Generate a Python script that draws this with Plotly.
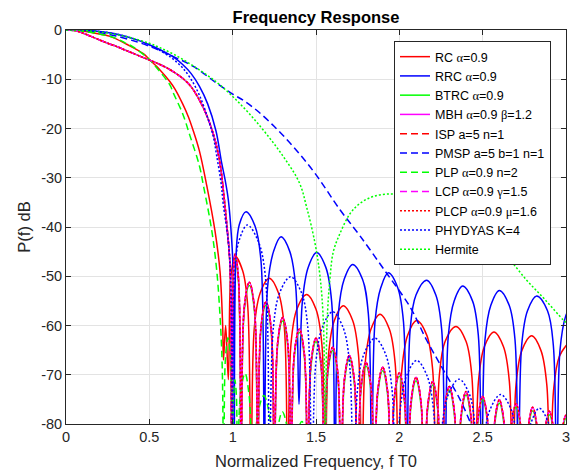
import plotly.graph_objects as go

# ---------------- data ----------------
x_ticks = [0, 0.5, 1, 1.5, 2, 2.5, 3]
x_tick_text = ["0", "0.5", "1", "1.5", "2", "2.5", "3"]
y_ticks = [0, -10, -20, -30, -40, -50, -60, -70, -80]
y_tick_text = ["0", "-10", "-20", "-30", "-40", "-50", "-60", "-70", "-80"]

# RC alpha=0.9 (red solid)
rc_f = [0, 0.1, 0.164, 0.264, 0.364, 0.464, 0.5, 0.564, 0.624, 0.654, 0.7, 0.734, 0.764, 0.8, 0.844, 0.894, 0.924, 0.94, 0.945, 0.958, 0.974,
        0.985, 0.995, 1.014, 1.06, 1.09, 1.11,
        1.13, 1.165, 1.22, 1.275, 1.31, 1.33,
        1.35, 1.385, 1.444, 1.5, 1.535, 1.555,
        1.575, 1.61, 1.664, 1.72, 1.755, 1.775,
        1.795, 1.83, 1.884, 1.94, 1.975, 1.995,
        2.015, 2.05, 2.104, 2.165, 2.2, 2.22,
        2.24, 2.275, 2.34, 2.4, 2.435, 2.455,
        2.475, 2.51, 2.568, 2.625, 2.66, 2.68,
        2.7, 2.735, 2.794, 2.85, 2.885, 2.905,
        2.925, 2.96, 3.02]
rc_db = [0, -0.2, -0.6, -1.3, -2.9, -4.8, -6.0, -8.1, -10.5, -12.0, -15.0, -17.6, -20.5, -24.5, -31.5, -40.8, -49.0, -60, -67, -60, -71,
         -52, -48.5, -45.9, -48.9, -55.9, -100,
         -60.4, -53.4, -50.4, -53.4, -60.4, -100,
         -63.7, -56.7, -53.7, -56.7, -63.7, -100,
         -66, -59, -56, -59, -66, -100,
         -67.7, -60.7, -57.7, -60.7, -67.7, -100,
         -69, -62, -59, -62, -69, -100,
         -70.2, -63.2, -60.2, -63.2, -70.2, -100,
         -71.3, -64.3, -61.3, -64.3, -71.3, -100,
         -72.1, -65.1, -62.1, -65.1, -72.1, -100,
         -73.3, -66.3, -63.3]

# RRC alpha=0.9 (blue solid)
rrc_f = [0, 0.1, 0.2, 0.3, 0.4, 0.5, 0.6, 0.65, 0.7, 0.75, 0.8, 0.85, 0.9, 0.934, 0.955, 0.974, 0.994, 1.004, 1.01,
         1.02, 1.04, 1.08, 1.135, 1.17, 1.19,
         1.21, 1.245, 1.29, 1.343, 1.378, 1.398,
         1.418, 1.453, 1.504, 1.559, 1.594, 1.614,
         1.634, 1.669, 1.72, 1.779, 1.814, 1.834,
         1.854, 1.889, 1.934, 1.99, 2.025, 2.045,
         2.065, 2.1, 2.164, 2.219, 2.254, 2.274,
         2.294, 2.329, 2.38, 2.439, 2.474, 2.494,
         2.514, 2.549, 2.6, 2.659, 2.694, 2.714,
         2.734, 2.769, 2.824, 2.889, 2.924, 2.944,
         2.964, 2.999, 3.05]
rrc_db = [0, -0.05, -0.3, -0.8, -1.7, -3.0, -4.6, -5.6, -7.0, -8.8, -11.4, -15.0, -20.5, -27.0, -30.5, -34.5, -42.6, -50, -100,
          -46, -39.5, -36.9, -39.9, -46.9, -100,
          -52, -45, -42, -45, -52, -76,
          -55.2, -48.2, -45.2, -48.2, -55.2, -100,
          -57.6, -50.6, -47.6, -50.6, -57.6, -100,
          -59.3, -52.3, -49.3, -52.3, -59.3, -100,
          -60.8, -53.8, -50.8, -53.8, -60.8, -100,
          -62, -55, -52, -55, -62, -100,
          -62.9, -55.9, -52.9, -55.9, -62.9, -100,
          -64, -57, -54, -57, -64, -100,
          -65, -58, -55]

# narrow-lobe family (BTRC, MBH, ISP, LCP, PLCP)
nar_f = [0, 0.05, 0.1, 0.15, 0.2, 0.25, 0.3, 0.35, 0.4, 0.45, 0.5, 0.55, 0.6, 0.65, 0.7, 0.75, 0.8, 0.85, 0.894, 0.924, 0.944, 0.964, 0.984, 0.993,
         1.003, 1.015, 1.035, 1.052,
         1.07, 1.1, 1.13, 1.15, 1.17, 1.2, 1.23, 1.25, 1.27, 1.3, 1.33, 1.35,
         1.37, 1.4, 1.43, 1.45, 1.47, 1.5, 1.53, 1.55, 1.57, 1.6, 1.63, 1.65,
         1.67, 1.7, 1.73, 1.75, 1.77, 1.8, 1.83, 1.85, 1.87, 1.9, 1.93, 1.95,
         1.97, 2.0, 2.03, 2.05, 2.07, 2.1, 2.13, 2.15, 2.17, 2.2, 2.23, 2.25,
         2.27, 2.3, 2.33, 2.35, 2.37, 2.4, 2.43, 2.45, 2.47, 2.5, 2.53, 2.55,
         2.57, 2.6, 2.63, 2.65, 2.67, 2.7, 2.73, 2.75, 2.77, 2.8, 2.83, 2.85,
         2.87, 2.9, 2.93, 2.95, 2.97, 3.0, 3.03]
mbh_db = [0, -0.1, -0.6, -1.3, -2.0, -2.7, -3.3, -4.0, -4.7, -5.4, -6.1, -6.8, -7.6, -8.6, -9.8, -11.5, -14.2, -17.8, -22.3, -27.1, -32.5, -39.3, -48, -100,
          -50.5, -45.5, -50.5, -100,
          -56.2, -51.2, -56.2, -100, -60.2, -55.2, -60.2, -100, -63.4, -58.4, -63.4, -100,
          -65.7, -60.7, -65.7, -100, -67.6, -62.6, -67.6, -100, -69.4, -64.4, -69.4, -100,
          -71.1, -66.1, -71.1, -100, -72.5, -67.5, -72.5, -100, -73.5, -68.5, -73.5, -100,
          -74.6, -69.6, -74.6, -100, -75.5, -70.5, -75.5, -100, -76.4, -71.4, -76.4, -100,
          -77.4, -72.4, -77.4, -100, -78.4, -73.4, -78.4, -100, -79.4, -74.4, -79.4, -100,
          -80.1, -75.1, -80.1, -100, -80.9, -75.9, -80.9, -100, -81.6, -76.6, -81.6, -100,
          -82.4, -77.4, -82.4, -100, -83.2, -78.2, -83.2]
btrc_db = [0, -0.1, -0.6, -1.3, -2.0, -2.7, -3.3, -4.0, -4.7, -5.4, -6.1, -6.8, -7.6, -8.6, -9.8, -11.5, -14.2, -17.8, -22.3, -27.1, -32.5, -39.3, -48, -100,
           -51.2, -46.2, -51.2, -100,
           -56.9, -51.9, -56.9, -100, -60.9, -55.9, -60.9, -100, -64.1, -59.1, -64.1, -100,
           -66.4, -61.4, -66.4, -100, -68.3, -63.3, -68.3, -100, -70.1, -65.1, -70.1, -100,
           -71.8, -66.8, -71.8, -100, -73.2, -68.2, -73.2, -100, -74.2, -69.2, -74.2, -100,
           -75.3, -70.3, -75.3, -100, -76.2, -71.2, -76.2, -100, -77.1, -72.1, -77.1, -100,
           -78.1, -73.1, -78.1, -100, -79.1, -74.1, -79.1, -100, -80.1, -75.1, -80.1, -100,
           -80.8, -75.8, -80.8, -100, -81.6, -76.6, -81.6, -100, -82.3, -77.3, -82.3, -100,
           -83.1, -78.1, -83.1, -100, -83.9, -78.9, -83.9]

# PMSP a=5 b=1 n=1 (blue dashed)
pmsp_f = [0, 0.1, 0.2, 0.3, 0.424, 0.5, 0.624, 0.764, 0.904, 1.0, 1.064, 1.144, 1.25, 1.364, 1.494, 1.644, 1.764,
          1.924, 2.064, 2.164, 2.264, 2.364, 2.43, 2.5]
pmsp_db = [0, -0.1, -0.5, -1.2, -2.4, -3.3, -5.1, -7.4, -10.8, -13.0, -14.3, -16.3, -19.6, -23.7, -29.1, -36.5, -41.8,
           -49.4, -56.2, -63, -69, -75, -80, -85.5]

# PLP alpha=0.9 n=2 (green dashed)
plp_f = [0, 0.1, 0.2, 0.3, 0.354, 0.4, 0.494, 0.55, 0.624, 0.644, 0.7, 0.744, 0.8, 0.824, 0.874, 0.904, 0.924, 0.937, 0.948,
         0.956, 0.972, 0.988, 0.998,
         1.006, 1.013, 1.022, 1.03,
         1.045, 1.074, 1.1, 1.125,
         1.145, 1.187, 1.225, 1.245,
         1.265, 1.298, 1.335, 1.355,
         1.375, 1.415, 1.455, 1.475,
         1.495, 1.53, 1.565, 1.6]
plp_db = [0, -0.3, -0.8, -1.7, -2.6, -3.4, -5.8, -7.9, -11.2, -12.8, -17, -21.5, -27.5, -31.5, -40.6, -48.7, -58, -68, -100,
          -67, -62.5, -67, -100,
          -74, -71, -74, -100,
          -74.7, -69.7, -74.7, -100,
          -79.2, -74.2, -79.2, -100,
          -82.5, -77.5, -82.5, -100,
          -84.5, -79.5, -84.5, -100,
          -86.5, -81.5, -86.5, -100]

# PHYDYAS K=4 (blue dotted)
phy_f = [0, 0.1, 0.2, 0.3, 0.4, 0.5, 0.6, 0.65, 0.7, 0.75, 0.8, 0.85, 0.884, 0.904, 0.93, 0.944, 0.974, 0.99, 1.0,
         1.015, 1.04, 1.088, 1.15, 1.195, 1.22,
         1.245, 1.285, 1.347, 1.41, 1.45, 1.475,
         1.5, 1.54, 1.6, 1.66, 1.7, 1.725,
         1.75, 1.79, 1.854, 1.915, 1.955, 1.98,
         2.005, 2.045, 2.104, 2.165, 2.205, 2.23,
         2.255, 2.295, 2.358, 2.42, 2.455, 2.48,
         2.505, 2.545, 2.608, 2.67, 2.705, 2.73,
         2.755, 2.79, 2.84, 2.895, 2.935, 2.96,
         2.985, 3.02]
phy_db = [0, -0.05, -0.3, -0.8, -1.7, -3.0, -4.9, -6.1, -7.7, -10, -13.2, -17.8, -21.7, -25.5, -31, -35.5, -43, -52, -100,
          -48, -42.6, -39.6, -42.6, -49.6, -100,
          -60.1, -53.1, -50.1, -53.1, -60.1, -100,
          -67.2, -60.2, -57.2, -60.2, -67.2, -100,
          -72.6, -65.6, -62.6, -65.6, -72.6, -100,
          -77.1, -70.1, -67.1, -70.1, -77.1, -100,
          -80.9, -73.9, -70.9, -73.9, -80.9, -100,
          -84, -77, -74, -77, -84, -100,
          -86.8, -79.8, -76.8, -79.8, -86.8, -100,
          -89, -82]

# Hermite (green dotted)
herm_f = [0, 0.1, 0.2, 0.3, 0.4, 0.5, 0.564, 0.65, 0.764, 0.9, 1.0, 1.1, 1.2, 1.3, 1.4, 1.444, 1.494,
          1.524, 1.545, 1.556, 1.566, 1.585, 1.604, 1.644, 1.704, 1.764, 1.844, 1.95, 2.05, 2.15, 2.25, 2.35, 2.45,
          2.554, 2.644, 2.764, 2.87, 2.984, 3.0]
herm_db = [0, -0.1, -0.4, -0.9, -1.7, -2.7, -3.6, -5.0, -7.3, -10.5, -13.5, -17.0, -21.0, -25.5, -31.0, -36.0, -43.3,
           -50, -60, -100, -60, -50, -45, -41.3, -37.3, -35.2, -33.8, -33.3, -33.8, -35, -37, -39.3, -41.5,
           -43.7, -46, -50.8, -54.6, -58.9, -59.4]

SER = "<span style='font-family:Liberation Serif'>"
series = [
    ("RC " + SER + "α</span>=0.9", rc_f, rc_db, "#ff0000", "solid"),
    ("RRC " + SER + "α</span>=0.9", rrc_f, rrc_db, "#0000ff", "solid"),
    ("BTRC " + SER + "α</span>=0.9", nar_f, btrc_db, "#00ff00", "solid"),
    ("MBH " + SER + "α</span>=0.9 " + SER + "β</span>=1.2", nar_f, mbh_db, "#ff00ff", "solid"),
    ("ISP a=5 n=1", nar_f, mbh_db, "#ff0000", "7px,4px"),
    ("PMSP a=5 b=1 n=1", pmsp_f, pmsp_db, "#0000ff", "7px,4px"),
    ("PLP " + SER + "α</span>=0.9 n=2", plp_f, plp_db, "#00ff00", "7px,4px"),
    ("LCP " + SER + "α</span>=0.9 " + SER + "γ</span>=1.5", nar_f, mbh_db, "#ff00ff", "7px,4px"),
    ("PLCP " + SER + "α</span>=0.9 " + SER + "μ</span>=1.6", nar_f, mbh_db, "#ff0000", "2px,2px"),
    ("PHYDYAS K=4", phy_f, phy_db, "#0000ff", "2px,2px"),
    ("Hermite", herm_f, herm_db, "#00ff00", "2px,2px"),
]

fig = go.Figure()
for name, fx, fy, col, dash in series:
    fig.add_trace(go.Scatter(x=fx, y=fy, mode="lines", name=name,
                             line=dict(color=col, width=1.5, dash=dash, shape="spline", smoothing=1)))

FONT = "Liberation Sans, Arial, Helvetica, sans-serif"
AX = "#262626"
axis_common = dict(showline=True, linecolor=AX, linewidth=1, mirror="ticks",
                   ticks="inside", ticklen=5, tickcolor=AX, tickwidth=1,
                   showgrid=True, gridcolor="#e3e3e3", gridwidth=1, zeroline=False,
                   automargin=False,
                   tickfont=dict(family=FONT, size=14.5, color=AX))

fig.update_layout(
    width=576, height=474,
    margin=dict(l=66, r=10, t=30, b=50, autoexpand=False),
    paper_bgcolor="white", plot_bgcolor="white",
    font=dict(family=FONT, color=AX),
    title=dict(text="<b>Frequency Response</b>", x=0.5, xref="paper", xanchor="center",
               y=1 - 17 / 474, yref="container", yanchor="middle",
               font=dict(family=FONT, size=16.5, color="#000000")),
    xaxis=dict(range=[0, 3], tickmode="array", tickvals=x_ticks, ticktext=x_tick_text,
               title=dict(text="Normalized Frequency, f T0", font=dict(family=FONT, size=16.5, color=AX), standoff=11),
               **axis_common),
    yaxis=dict(range=[-80, 0], tickmode="array", tickvals=y_ticks, ticktext=y_tick_text,
               title=dict(text="P(f) dB", font=dict(family=FONT, size=16.5, color=AX), standoff=6),
               **axis_common),
    legend=dict(x=0.97, y=0.972, xanchor="right", yanchor="top", bgcolor="white",
                bordercolor=AX, borderwidth=1, font=dict(family=FONT, size=12.5, color="#000000"),
                tracegroupgap=0),
    showlegend=True,
)

fig.write_html("out.html", config={"displayModeBar": False},
               post_script="document.body.style.margin='0px';document.body.style.overflow='hidden';")
